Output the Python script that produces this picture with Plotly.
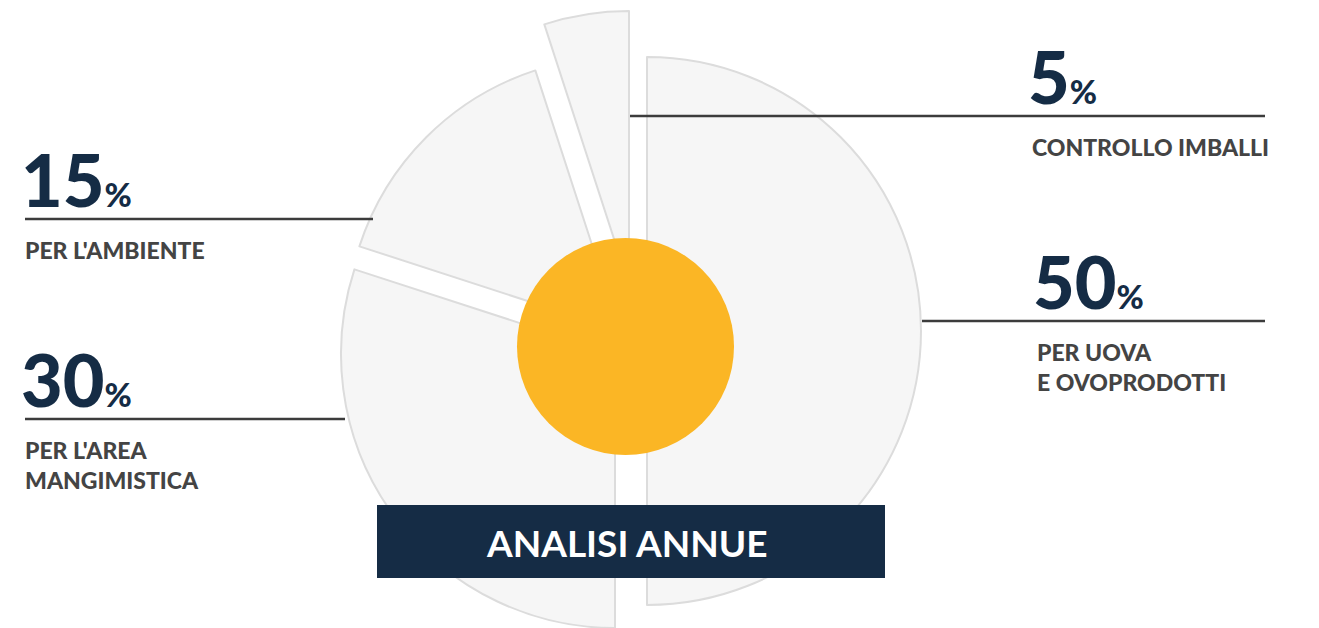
import plotly.graph_objects as go

W, H = 1319, 628

# ---- data (slices listed clockwise from 12 o'clock) ----
values = [50, 30, 15, 5]
labels = ["PER UOVA|E OVOPRODOTTI", "PER L'AREA|MANGIMISTICA", "PER L'AMBIENTE", "CONTROLLO IMBALLI"]
title_text = "ANALISI ANNUE"

# ---- layout / style (pixels) ----
R = 274
slice_apex = [(647, 331), (615, 354), (620, 331), (629, 285)]
label_pos = [
    dict(x=1037, ly=321, lx0=922, lx1=1265),
    dict(x=25, ly=419, lx0=25, lx1=345),
    dict(x=25, ly=219, lx0=25, lx1=373),
    dict(x=1032, ly=116, lx0=630, lx1=1265),
]
NAVY = "#152C45"
GREY = "#444444"
FILL = "#F6F6F6"
EDGE = "#DCDCDC"
YELLOW = "#FBB625"
FONT = "Lato"


def px(x):
    return x / W


def py(y):
    return 1 - y / H


fig = go.Figure()

for i, (cx, cy) in enumerate(slice_apex):
    colors = ["rgba(0,0,0,0)"] * len(values)
    lcolors = ["rgba(0,0,0,0)"] * len(values)
    lwidths = [0] * len(values)
    colors[i] = FILL
    lcolors[i] = EDGE
    lwidths[i] = 2
    fig.add_trace(go.Pie(
        values=values,
        labels=[l.replace("|", " ") for l in labels],
        sort=False,
        direction="clockwise",
        rotation=0,
        marker=dict(colors=colors, line=dict(color=lcolors, width=lwidths)),
        textinfo="none",
        hoverinfo="skip",
        showlegend=False,
        domain=dict(
            x=[max(0, (cx - R) / W), min(1, (cx + R) / W)],
            y=[max(0, (H - cy - R) / H), min(1, (H - cy + R) / H)],
        ),
    ))

shapes = []
annotations = []

# central yellow disc
ccx, ccy, cr = 625.5, 346.5, 108.5
shapes.append(dict(type="circle", xref="paper", yref="paper",
                   x0=px(ccx - cr), x1=px(ccx + cr), y0=py(ccy + cr), y1=py(ccy - cr),
                   fillcolor=YELLOW, line=dict(width=0), layer="above"))

for v, lab, pos in zip(values, labels, label_pos):
    shapes.append(dict(type="line", xref="paper", yref="paper",
                       x0=px(pos["lx0"]), x1=px(pos["lx1"]),
                       y0=py(pos["ly"]), y1=py(pos["ly"]),
                       line=dict(color="#3C3C3C", width=2.5), layer="above"))
    annotations.append(dict(
        xref="paper", yref="paper", x=px(pos["x"] - 6), y=py(pos["ly"] - 40),
        xanchor="left", yanchor="middle", showarrow=False,
        text=f"{v}<span style='font-size:33px'>%</span>",
        font=dict(family=FONT, size=72, color=NAVY, weight=900),
    ))
    annotations.append(dict(
        xref="paper", yref="paper", x=px(pos["x"] - 2), y=py(pos["ly"] + 15),
        xanchor="left", yanchor="top", align="left", showarrow=False,
        text=lab.replace("|", "<br>"),
        font=dict(family=FONT, size=23, color=GREY, weight=900),
    ))

# title box
shapes.append(dict(type="rect", xref="paper", yref="paper",
                   x0=px(377), x1=px(885), y0=py(578), y1=py(505),
                   fillcolor=NAVY, line=dict(width=0), layer="above"))
annotations.append(dict(
    xref="paper", yref="paper", x=px(627), y=py(542),
    xanchor="center", yanchor="middle", showarrow=False,
    text=title_text,
    font=dict(family=FONT, size=37, color="white", weight=700),
))

fig.update_layout(
    width=W, height=H,
    margin=dict(l=0, r=0, t=0, b=0),
    paper_bgcolor="white", plot_bgcolor="white",
    showlegend=False,
    shapes=shapes,
    annotations=annotations,
)

fig.write_html("out.html",
               config={"displayModeBar": False},
               post_script="document.body.style.margin='0px';document.body.style.overflow='hidden';")
